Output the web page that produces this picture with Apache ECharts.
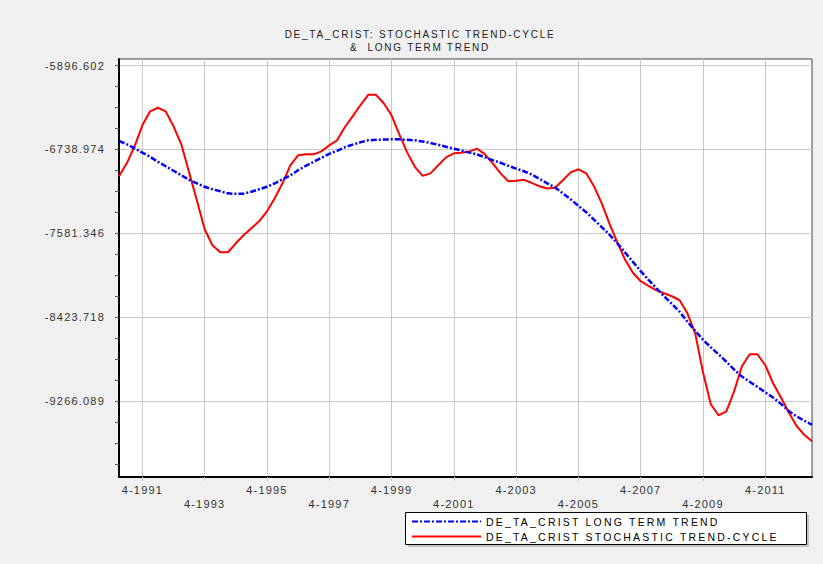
<!DOCTYPE html>
<html>
<head>
<meta charset="utf-8">
<script src="https://cdn.jsdelivr.net/npm/echarts@6/dist/echarts.min.js"></script>
<style>
html, body { margin: 0; padding: 0; background: #f0f0f0; }
#chart { width: 823px; height: 564px; }
svg text { white-space: pre; }
svg text[style*="10px"] { letter-spacing: 1.75px; }
svg text[style*="11px"] { letter-spacing: 1.2px; }
svg text[style*="10.5px"] { letter-spacing: 2.2px; }
</style>
</head>
<body>
<div id="chart"></div>
<script>
// Quarterly periods (quarter-year)
const categories = [
  '1-1991','2-1991','3-1991','4-1991','1-1992','2-1992','3-1992','4-1992',
  '1-1993','2-1993','3-1993','4-1993','1-1994','2-1994','3-1994','4-1994',
  '1-1995','2-1995','3-1995','4-1995','1-1996','2-1996','3-1996','4-1996',
  '1-1997','2-1997','3-1997','4-1997','1-1998','2-1998','3-1998','4-1998',
  '1-1999','2-1999','3-1999','4-1999','1-2000','2-2000','3-2000','4-2000',
  '1-2001','2-2001','3-2001','4-2001','1-2002','2-2002','3-2002','4-2002',
  '1-2003','2-2003','3-2003','4-2003','1-2004','2-2004','3-2004','4-2004',
  '1-2005','2-2005','3-2005','4-2005','1-2006','2-2006','3-2006','4-2006',
  '1-2007','2-2007','3-2007','4-2007','1-2008','2-2008','3-2008','4-2008',
  '1-2009','2-2009','3-2009','4-2009','1-2010','2-2010','3-2010','4-2010',
  '1-2011','2-2011','3-2011','4-2011','1-2012','2-2012','3-2012','4-2012',
  '1-2013','2-2013'
];

const stochasticTrendCycle = [
  -7009,-6878,-6707,-6496,-6356,-6320,-6356,-6506,-6687,-6969,
  -7250,-7541,-7702,-7772,-7772,-7682,-7601,-7531,-7461,-7360,
  -7230,-7079,-6898,-6798,-6788,-6788,-6758,-6697,-6647,-6516,
  -6406,-6295,-6190,-6190,-6275,-6396,-6587,-6768,-6913,-7004,
  -6979,-6898,-6818,-6778,-6773,-6758,-6732,-6788,-6878,-6979,
  -7059,-7054,-7044,-7074,-7109,-7132,-7124,-7049,-6969,-6938,
  -6979,-7109,-7280,-7486,-7672,-7848,-7978,-8063,-8109,-8154,
  -8184,-8214,-8254,-8385,-8586,-8978,-9299,-9410,-9370,-9169,
  -8917,-8797,-8797,-8907,-9088,-9229,-9380,-9515,-9606,-9671
];

const longTermTrend = [
  -6652,-6687,-6727,-6771,-6813,-6863,-6908,-6953,-6999,-7044,
  -7079,-7114,-7139,-7159,-7180,-7185,-7183,-7164,-7139,-7114,
  -7079,-7039,-6999,-6948,-6903,-6863,-6823,-6783,-6753,-6717,
  -6690,-6667,-6647,-6642,-6639,-6637,-6637,-6642,-6647,-6659,
  -6674,-6692,-6712,-6731,-6750,-6771,-6790,-6818,-6846,-6873,
  -6903,-6931,-6958,-6991,-7034,-7079,-7122,-7180,-7240,-7305,
  -7370,-7444,-7519,-7596,-7682,-7775,-7868,-7961,-8049,-8131,
  -8214,-8291,-8370,-8470,-8561,-8651,-8727,-8797,-8872,-8951,
  -9021,-9073,-9125,-9179,-9232,-9295,-9366,-9420,-9464,-9505
];

const yTickValues = [-5896.602, -6738.974, -7581.346, -8423.718, -9266.089];
const yMin = -10030;
const yMax = -5830;

const seriesNames = ['DE_TA_CRIST LONG TERM TREND', 'DE_TA_CRIST STOCHASTIC TREND-CYCLE'];
const titleLines = ['DE_TA_CRIST: STOCHASTIC TREND-CYCLE', '&  LONG TERM TREND'];

// minor ticks: quarter of the labelled step
const yStep = yTickValues[0] - yTickValues[1];
const yMinorTicks = [];
for (let k = 0; k < 20; k++) yMinorTicks.push(+(yTickValues[0] - k * yStep / 4).toFixed(3));

const firstLabelIdx = 3, labelEvery = 8;
const isLabelIdx = (i) => i >= firstLabelIdx && (i - firstLabelIdx) % labelEvery === 0;

const chart = echarts.init(document.getElementById('chart'), null, { renderer: 'svg' });

const option = {
  animation: false,
  backgroundColor: '#f0f0f0',
  title: {
    text: titleLines.join('\n'),
    left: 420,
    top: 28,
    textAlign: 'center',
    padding: 0,
    textStyle: { fontFamily: 'Liberation Sans', fontSize: 10, fontWeight: 'normal', color: '#222', lineHeight: 13 }
  },
  grid: {
    left: 119, right: 11, top: 59, bottom: 87,
    show: true, backgroundColor: '#ffffff', borderColor: '#444', borderWidth: 1,
    containLabel: false
  },
  graphic: [
    { type: 'rect', z: 0, shape: { x: 408, y: 515, width: 401, height: 32 }, style: { fill: '#c4c4c4' } },
    { type: 'rect', z: 1, shape: { x: 405.5, y: 512.5, width: 401, height: 32 }, style: { fill: '#ffffff', stroke: '#000', lineWidth: 1 } }
  ],
  legend: {
    data: seriesNames,
    orient: 'vertical',
    left: 406, top: 513,
    padding: [3, 0, 0, 5],
    itemWidth: 69, itemHeight: 10, itemGap: 4,
    selectedMode: false,
    z: 5,
    itemStyle: { opacity: 0 },
    textStyle: { fontFamily: 'Liberation Sans', fontSize: 10.5, color: '#000', lineHeight: 10 }
  },
  xAxis: {
    type: 'category',
    data: categories,
    boundaryGap: false,
    axisLine: { show: true, lineStyle: { color: '#000', width: 2 } },
    axisTick: { show: true, interval: (i) => isLabelIdx(i), length: 4, lineStyle: { color: '#c8c8c8' } },
    splitLine: { show: true, interval: (i) => isLabelIdx(i), lineStyle: { color: '#c8c8c8', width: 1 } },
    axisLabel: {
      interval: (i) => isLabelIdx(i),
      margin: 6,
      fontFamily: 'Liberation Sans', fontSize: 11, color: '#333', lineHeight: 14,
      formatter: (v, i) => (((i - firstLabelIdx) / labelEvery) % 2 === 1 ? '\n' + v : v)
    }
  },
  yAxis: [
    {
      type: 'value', min: yMin, max: yMax, position: 'left',
      axisLine: { show: true, lineStyle: { color: '#000', width: 2 } },
      axisTick: { show: false, customValues: yTickValues },
      splitLine: { show: true, lineStyle: { color: '#c8c8c8', width: 1 } },
      axisLabel: {
        customValues: yTickValues, margin: 14,
        fontFamily: 'Liberation Sans', fontSize: 11, color: '#333',
        formatter: (v) => v.toFixed(3)
      }
    },
    {
      type: 'value', min: yMin, max: yMax, position: 'left',
      axisLine: { show: false },
      axisTick: { show: true, customValues: yMinorTicks, length: 4, lineStyle: { color: '#555' } },
      splitLine: { show: false },
      axisLabel: { show: false }
    }
  ],
  series: [
    {
      name: seriesNames[1], type: 'line', data: stochasticTrendCycle,
      symbol: 'none', smooth: false, z: 3,
      lineStyle: { color: '#ff0000', width: 2 }, itemStyle: { color: '#ff0000' }
    },
    {
      name: seriesNames[0], type: 'line', data: longTermTrend,
      symbol: 'none', smooth: false, z: 4,
      lineStyle: { color: '#0000ff', width: 2.5, type: [6, 2, 2, 2] }, itemStyle: { color: '#0000ff' }
    }
  ]
};
chart.setOption(option);
</script>
</body>
</html>
